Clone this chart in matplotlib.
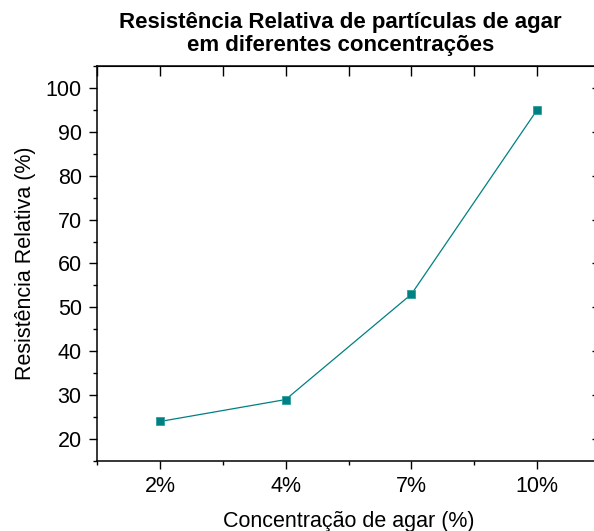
import numpy as np
import matplotlib
matplotlib.use('Agg')
import matplotlib.pyplot as plt
from matplotlib.ticker import MultipleLocator

concentracoes = ['2%', '4%', '7%', '10%']
resistencia = [24, 29, 53, 95]

plt.rcParams['font.family'] = ['Liberation Sans', 'DejaVu Sans']

fig = plt.figure(figsize=(5.94, 5.31), dpi=100)
ax = fig.add_axes([97 / 594, 1 - 461 / 531, 503 / 594, 395 / 531])

x = np.arange(1, len(concentracoes) + 1)
ax.plot(x, resistencia, color='#008080', lw=0.9, marker='s', ms=6,
        markerfacecolor='#008080', markeredgecolor='#2aa0a0', markeredgewidth=0.6)

ax.set_xlim(0.5, 4.5)
ax.set_ylim(15, 105)
ax.set_xticks(x)
ax.set_xticklabels(concentracoes)
ax.xaxis.set_minor_locator(MultipleLocator(0.5))
ax.yaxis.set_minor_locator(MultipleLocator(5))
ax.set_yticks(np.arange(20, 101, 10))
ax.tick_params(which='major', direction='out', length=6, width=1, labelsize=15.5,
               colors='black', pad=5)
ax.tick_params(which='minor', direction='out', length=3, width=1)

for s in ax.spines.values():
    s.set_linewidth(1.1)

# mirrored ticks (Origin style)
top = ax.secondary_xaxis('top')
top.set_xticks(np.arange(0.5, 4.6, 0.5))
top.tick_params(direction='in', length=7, width=1, labeltop=False)
right = ax.secondary_yaxis('right')
right.set_yticks(np.arange(20, 101, 10))
right.tick_params(direction='in', length=6, width=1, labelright=False)

ax.set_xlabel('Concentração de agar (%)', fontsize=15.5, labelpad=10)
ax.set_ylabel('Resistência Relativa (%)', fontsize=15.5, labelpad=7)
fig.text(0.573, 0.978, 'Resistência Relativa de partículas de agar\nem diferentes concentrações',
         ha='center', va='top', fontsize=16, fontweight='bold', linespacing=1.12)

plt.savefig('out.png', dpi=100)
